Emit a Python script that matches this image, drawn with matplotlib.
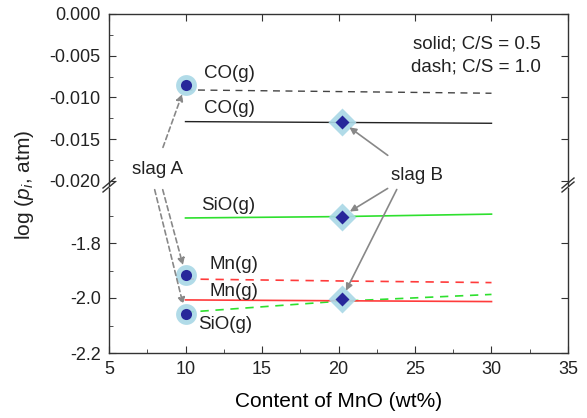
import numpy as np
import matplotlib.pyplot as plt
from matplotlib.lines import Line2D

plt.rcParams['font.family'] = ['Liberation Sans', 'DejaVu Sans']
plt.rcParams['mathtext.fontset'] = 'custom'
plt.rcParams['mathtext.rm'] = 'Liberation Sans'
plt.rcParams['mathtext.it'] = 'Liberation Sans:italic'
plt.rcParams['text.color'] = '#222222'
plt.rcParams['axes.unicode_minus'] = False

# MnO content (wt%)
mno = [10, 20, 30]

# upper panel: CO(g)
co_solid = [-0.0129, -0.0130, -0.0131]
co_dash = [-0.0091, -0.0093, -0.0095]
# lower panel
sio_solid = [-1.709, -1.704, -1.695]
sio_dash = [-2.052, -2.012, -1.987]
mn_solid = [-2.007, -2.010, -2.013]
mn_dash = [-1.931, -1.938, -1.944]

# experimental slags
slagA_x = 10
slagA_co = -0.0085
slagA_low = [-1.915, -2.058]
slagB_x = 20.2
slagB_co = -0.0129
slagB_low = [-1.704, -2.005]

W, H = 587, 418
fig = plt.figure(figsize=(W / 100, H / 100), dpi=100)

def fx(px): return px / W
def fy(py): return 1 - py / H

ax1 = fig.add_axes([fx(109), fy(185), fx(568) - fx(109), fy(14) - fy(185)])
ax2 = fig.add_axes([fx(109), fy(353), fx(568) - fx(109), fy(188) - fy(353)])

ink = '#333333'
for ax in (ax1, ax2):
    ax.set_xlim(5, 35)
    ax.set_xticks([5, 10, 15, 20, 25, 30, 35])
    ax.set_xticks(np.arange(7.5, 35, 5), minor=True)
    for s in ax.spines.values():
        s.set_color(ink)
        s.set_linewidth(1.0)
    ax.tick_params(direction='in', which='major', length=5, color=ink, labelsize=13,
                   labelcolor='#222222', pad=6, right=True, top=True)
    ax.tick_params(direction='in', which='minor', length=3, color=ink)

ax1.spines['bottom'].set_visible(False)
ax2.spines['top'].set_visible(False)
ax1.tick_params(bottom=False, labelbottom=False, top=True)
ax1.tick_params(which='minor', bottom=False, top=False)
ax2.tick_params(top=False)
ax2.tick_params(which='minor', top=False)

ax1.set_ylim(-0.0205, 0.0)
ax1.set_yticks([-0.020, -0.015, -0.010, -0.005, 0.0])
ax1.set_yticklabels(['-0.020', '-0.015', '-0.010', '-0.005', '0.000'])
ax1.set_yticks([-0.0175, -0.0125, -0.0075, -0.0025], minor=True)
ax2.set_ylim(-2.2, -1.6)
ax2.set_yticks([-2.2, -2.0, -1.8])
ax2.set_yticklabels(['-2.2', '-2.0', '-1.8'])
ax2.set_yticks([-2.1, -1.9, -1.7], minor=True)
ax1.tick_params(which='minor', right=False)
ax2.tick_params(which='minor', right=False)

green = '#2ee02e'
red = '#ff3b3b'

ax1.plot(mno, co_dash, color='#444444', lw=1.0, ls=(0, (5, 4)))
ax1.plot(mno, co_solid, color='#222222', lw=1.0)
ax2.plot(mno, sio_solid, color=green, lw=1.2)
ax2.plot(mno, sio_dash, color=green, lw=1.2, ls=(0, (5, 4)))
ax2.plot(mno, mn_solid, color=red, lw=1.2)
ax2.plot(mno, mn_dash, color=red, lw=1.2, ls=(0, (5, 4)))

halo = '#a9d8e6'
dot = '#27279a'
ax1.plot(slagA_x, slagA_co, 'o', ms=15, color=halo, mec='none', alpha=0.9)
ax1.plot(slagA_x, slagA_co, 'o', ms=8, color=dot, mec='none')
ax1.plot(slagB_x, slagB_co, 'D', ms=14, color=halo, mec='none', alpha=0.9)
ax1.plot(slagB_x, slagB_co, 'D', ms=7, color=dot, mec='none')
ax2.plot([slagA_x] * 2, slagA_low, 'o', ms=15, color=halo, mec='none', alpha=0.9)
ax2.plot([slagA_x] * 2, slagA_low, 'o', ms=8, color=dot, mec='none')
ax2.plot([slagB_x] * 2, slagB_low, 'D', ms=14, color=halo, mec='none', alpha=0.9)
ax2.plot([slagB_x] * 2, slagB_low, 'D', ms=7, color=dot, mec='none')

fs = 13.5
ax1.text(11.2, -0.0071, 'CO(g)', fontsize=fs, va='center')
ax1.text(11.2, -0.0113, 'CO(g)', fontsize=fs, va='center')
ax2.text(11.0, -1.663, 'SiO(g)', fontsize=fs, va='center')
ax2.text(11.6, -1.878, 'Mn(g)', fontsize=fs, va='center')
ax2.text(11.6, -1.975, 'Mn(g)', fontsize=fs, va='center')
ax2.text(10.8, -2.097, 'SiO(g)', fontsize=fs, va='center')
fig.text(fx(541), fy(44), 'solid; C/S = 0.5', fontsize=fs, ha='right', va='center')
fig.text(fx(541), fy(67), 'dash; C/S = 1.0', fontsize=fs, ha='right', va='center')
fig.text(fx(158), fy(170), 'slag A', fontsize=fs, ha='center', va='center',
         bbox=dict(fc='white', ec='none', pad=0.5))
fig.text(fx(417), fy(175), 'slag B', fontsize=fs, ha='center', va='center')

# arrows to slag A (dashed)
dashed = dict(arrowstyle='-|>', color='#888888', lw=1.2, ls=(0, (3, 2)), mutation_scale=10, shrinkB=7)
ax1.annotate('', xy=(slagA_x, slagA_co), xytext=(fx(162), fy(150)), textcoords='figure fraction',
             arrowprops=dashed, annotation_clip=False)
ax2.annotate('', xy=(slagA_x, slagA_low[0]), xytext=(fx(162), fy(187)), textcoords='figure fraction',
             arrowprops=dashed, annotation_clip=False)
ax2.annotate('', xy=(slagA_x, slagA_low[1]), xytext=(fx(154), fy(187)), textcoords='figure fraction',
             arrowprops=dashed, annotation_clip=False)

# arrows to slag B (solid)
solid = dict(arrowstyle='-|>', color='#888888', lw=1.2, mutation_scale=10, shrinkB=7)
ax1.annotate('', xy=(slagB_x, slagB_co), xytext=(fx(390), fy(157)), textcoords='figure fraction',
             arrowprops=solid, annotation_clip=False)
ax2.annotate('', xy=(slagB_x, slagB_low[0]), xytext=(fx(390), fy(187)), textcoords='figure fraction',
             arrowprops=solid, annotation_clip=False)
ax2.annotate('', xy=(slagB_x, slagB_low[1]), xytext=(fx(398), fy(187)), textcoords='figure fraction',
             arrowprops=solid, annotation_clip=False)

# break marks
for xp in (109, 568):
    for dy in (-2, 2):
        fig.add_artist(Line2D([fx(xp - 6), fx(xp + 6)], [fy(190 + dy), fy(180 + dy)],
                              color=ink, lw=1.0, transform=fig.transFigure))

ax2.set_xlabel('Content of MnO (wt%)', fontsize=15, labelpad=10)
fig.text(fx(25), fy(185), r'log ($p_i$, atm)', rotation=90, fontsize=15, ha='center', va='center')

fig.savefig('out.png', dpi=100)
